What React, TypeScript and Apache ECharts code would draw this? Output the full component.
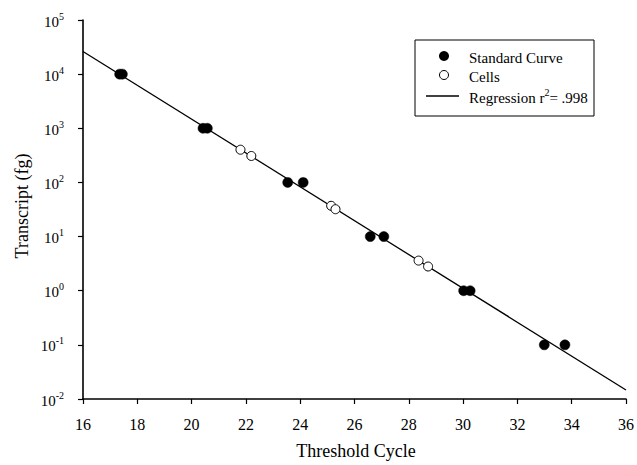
import React, { useEffect, useRef } from "react";
import * as echarts from "echarts";

const standardCurve: [number, number][] = [
  [17.35, 10000], [17.45, 10000],
  [20.42, 1000], [20.58, 1000],
  [23.54, 100], [24.11, 100],
  [26.58, 10], [27.08, 10],
  [30.02, 1], [30.26, 1],
  [32.99, 0.1], [33.75, 0.1],
];

const cells: [number, number][] = [
  [21.8, 402], [22.2, 308],
  [25.14, 37], [25.3, 32],
  [28.36, 3.6], [28.71, 2.8],
];

const regression: [number, number][] = [
  [16, 26200],
  [36, 0.0147],
];

const xTicks = { min: 16, max: 36, interval: 2 };
const yRange = { min: 0.01, max: 100000 };

const legendLabels = ["Standard Curve", "Cells", "Regression"];
const rSquared = ".998";

const FONT = "Liberation Serif";

export default function App() {
  const ref = useRef<HTMLDivElement>(null);
  useEffect(() => {
    document.body.style.margin = "0";
    if (!ref.current) return;
    const chart = echarts.init(ref.current, undefined, { renderer: "svg" });
    const lx = 415, ly = 40;
    const tok = (size: number) => ({ fontFamily: FONT, fontSize: size, fill: "#000", color: "#000", lineHeight: 18, verticalAlign: "bottom" });
    const sup = { fontFamily: FONT, fontSize: 10, fill: "#000", color: "#000", lineHeight: 18, verticalAlign: "top", padding: [0, 0, 6, 0] };
    const richText = (text: string, size: number) => ({
      text: `{a|${text}}`,
      fontFamily: FONT,
      fontSize: size,
      fill: "#000",
      rich: { a: tok(size) },
    });
    chart.setOption({
      animation: false,
      backgroundColor: "#fff",
      textStyle: { fontFamily: FONT, color: "#000" },
      grid: { left: 83, right: 10, top: 20, bottom: 66 },
      xAxis: {
        type: "value",
        min: xTicks.min,
        max: xTicks.max,
        interval: xTicks.interval,
        splitLine: { show: false },
        axisLine: { show: true, onZero: false, lineStyle: { color: "#000", width: 1.6 } },
        axisTick: { show: true, length: 5, lineStyle: { color: "#000", width: 1.2 } },
        axisLabel: {
          fontFamily: FONT,
          fontSize: 16,
          color: "#000",
          margin: 15,
          formatter: (v: number) => `{a|${v}}`,
          rich: { a: tok(16) },
        },
      },
      yAxis: {
        type: "log",
        logBase: 10,
        min: yRange.min,
        max: yRange.max,
        interval: 1,
        splitLine: { show: false },
        axisLine: { show: true, lineStyle: { color: "#000", width: 1.6 } },
        axisTick: { show: true, length: 5, lineStyle: { color: "#000", width: 1.2 } },
        axisLabel: {
          fontFamily: FONT,
          color: "#000",
          margin: 19,
          formatter: (v: number) => `{b|10}{s|${Math.round(Math.log10(v))}}`,
          rich: { b: tok(15), s: sup },
        },
      },
      series: [
        {
          name: legendLabels[2],
          type: "line",
          data: regression,
          symbol: "none",
          lineStyle: { color: "#000", width: 1.3 },
          z: 1,
        },
        {
          name: legendLabels[0],
          type: "scatter",
          data: standardCurve,
          symbol: "circle",
          symbolSize: 10,
          itemStyle: { color: "#000", borderColor: "#000", borderWidth: 0.5, opacity: 1 },
          z: 3,
        },
        {
          name: legendLabels[1],
          type: "scatter",
          data: cells,
          symbol: "circle",
          symbolSize: 9,
          itemStyle: { color: "#fff", borderColor: "#000", borderWidth: 1, opacity: 1 },
          z: 3,
        },
      ],
      graphic: [
        {
          type: "text",
          x: 356,
          y: 451,
          style: { ...richText("Threshold Cycle", 18), textAlign: "center", textVerticalAlign: "middle" },
        },
        {
          type: "text",
          x: 22,
          y: 206,
          rotation: Math.PI / 2,
          style: { ...richText("Transcript (fg)", 18), textAlign: "center", textVerticalAlign: "middle" },
        },
        {
          type: "rect",
          shape: { x: lx, y: ly, width: 179, height: 76 },
          style: { fill: "#fff", stroke: "#000", lineWidth: 1 },
          z: 10,
        },
        {
          type: "circle",
          shape: { cx: 444, cy: 56, r: 5 },
          style: { fill: "#000" },
          z: 11,
        },
        {
          type: "text",
          x: 469,
          y: 56,
          style: { ...richText(legendLabels[0], 15), textVerticalAlign: "middle" },
          z: 11,
        },
        {
          type: "circle",
          shape: { cx: 444, cy: 75, r: 4.5 },
          style: { fill: "#fff", stroke: "#000", lineWidth: 1 },
          z: 11,
        },
        {
          type: "text",
          x: 469,
          y: 75,
          style: { ...richText(legendLabels[1], 15), textVerticalAlign: "middle" },
          z: 11,
        },
        {
          type: "line",
          shape: { x1: 426, y1: 96, x2: 459, y2: 96 },
          style: { stroke: "#000", lineWidth: 1.3 },
          z: 11,
        },
        {
          type: "text",
          x: 469,
          y: 96,
          style: {
            text: `{t|${legendLabels[2]} r}{s|2}{t|= ${rSquared}}`,
            fontFamily: FONT,
            fontSize: 15,
            fill: "#000",
            textVerticalAlign: "middle",
            rich: { t: tok(15), s: sup },
          },
          z: 11,
        },
      ],
    });
    return () => chart.dispose();
  }, []);
  return <div ref={ref} style={{ width: 637, height: 465 }} />;
}
